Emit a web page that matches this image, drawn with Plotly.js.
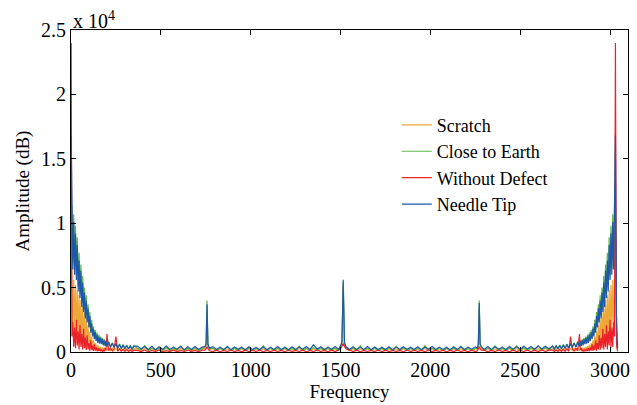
<!DOCTYPE html>
<html>
<head>
<meta charset="utf-8">
<script src="https://cdn.plot.ly/plotly-3.0.1.min.js"></script>
<style>html,body{margin:0;padding:0;background:#fff;}#chart{width:637px;height:405px;}</style>
</head>
<body>
<div id="chart"></div>
<script>
// Frequency bins: low edge, middle band, high edge
var freqLow = [1,5,10,15,20,25,30,35,40,45,50,55,60,65,70,75,80,85,90,95,100,105,110,115,120,125,130,135,140,145,150,155,160,165,170,175,180,185,190,195,200,210,220,230,240,250,260,270,280,290,300,310,320,330,340,350];
var freqMid = [370,390,410,430,450,470,490,510,530,550,570,590,610,630,650,670,690,710,730,
  745,752,757,762,770,
  790,810,830,850,870,890,910,930,950,970,990,1010,1030,1050,1070,1090,1110,1130,1150,1170,1190,1210,1230,1250,1270,1290,1310,1330,1350,1370,1390,1410,1430,1450,1470,1490,
  1500,1508,1515,1522,1530,
  1550,1570,1590,1610,1630,1650,1670,1690,1710,1730,1750,1770,1790,1810,1830,1850,1870,1890,1910,1930,1950,1970,1990,2010,2030,2050,2070,2090,2110,2130,2150,2170,2190,2210,2230,2250,
  2262,2267,2272,2277,2284,
  2300,2320,2340,2360,2380,2400,2420,2440,2460,2480,2500,2520,2540,2560,2580,2600,2620,2640,2660];
var freqHigh = [2680,2690,2700,2710,2720,2730,2740,2750,2760,2770,2780,2790,2800,2810,2820,2830,2835,2840,2845,2850,2855,2860,2865,2870,2875,2880,2885,2890,2895,2900,2905,2910,2915,2920,2925,2930,2935,2940,2945,2950,2955,2960,2965,2970,2975,2980,2985,2990,2995,3000,3005,3010,3015,3020,3025,3030,3036,3042];

// Scratch
var scratchLow = [9000,6000,1500,5600,1800,5200,1400,4800,1200,4400,1000,4000,900,3600,800,3100,600,2600,500,2100,400,1600,300,1200,250,900,200,700,180,550,150,450,140,400,130,360,120,330,110,310,100,300,120,290,110,280,100,270,110,260,100,260,90,250,100,250];
var scratchMid = [260,110,280,100,250,120,260,90,270,110,240,100,260,120,250,90,260,110,250,
  300,450,3300,450,200,
  250,100,260,110,240,90,270,110,250,100,260,120,240,100,250,110,270,90,250,110,260,100,240,120,270,100,250,110,260,90,250,110,240,100,260,110,
  320,550,5000,550,300,
  110,260,100,250,120,240,100,270,110,250,90,260,110,240,100,250,120,260,90,250,110,270,100,240,110,260,100,250,120,240,90,260,110,250,100,260,
  200,450,3300,450,300,
  110,250,100,260,120,240,110,270,100,250,120,260,110,280,100,260,120,270,110];
var scratchHigh = [250,100,250,90,260,100,260,110,270,100,280,110,290,120,300,100,310,110,330,120,360,130,400,140,450,150,550,180,700,200,900,250,1200,300,1600,400,2100,500,2600,600,3100,800,3600,900,4000,1000,4400,1200,4800,1400,5200,1800,5600,1500,6000,9000,800,100];

// Close to Earth
var earthLow = [11400,11300,6900,10700,6500,9800,6000,8900,5100,7700,4600,6800,3800,5900,3400,5000,2800,4400,2500,3700,2100,3100,1700,2500,1300,2000,1100,1700,900,1500,760,1350,700,1200,650,1100,560,1000,520,900,470,820,400,730,360,680,320,620,300,580,280,540,260,500,250,480];
var earthMid = [300,150,480,130,320,160,300,140,350,120,310,150,470,130,300,160,320,140,300,
  350,650,4000,650,250,
  300,140,320,130,460,150,300,120,330,140,310,160,300,130,480,150,320,140,300,130,310,150,320,130,460,140,300,150,340,130,310,120,320,150,300,140,
  400,700,5400,700,350,
  140,310,150,470,130,300,160,320,140,300,120,330,150,460,130,310,150,300,140,320,130,480,150,300,140,310,160,300,130,320,150,460,140,300,150,320,
  250,650,4000,650,350,
  140,320,150,470,130,300,160,320,140,480,130,330,160,310,150,470,170,330,180];
var earthHigh = [480,250,500,260,540,280,580,300,620,320,680,360,730,400,820,470,900,520,1000,560,1100,650,1200,700,1350,760,1500,900,1700,1100,2000,1300,2500,1700,3100,2100,3700,2500,4400,2800,5000,3400,5900,3800,6800,4600,7700,5100,8900,6000,9800,6500,10700,6900,11300,11400,1200,200];

// Without Defect
var cleanLow = [24000,1200,2300,400,1900,300,2500,500,1600,200,2100,400,1400,200,1800,300,1100,150,1300,200,700,100,900,150,500,80,600,100,350,60,300,80,250,50,200,60,150,50,300,150,1400,100,300,80,250,1200,60,250,50,200,40,180,40,160,30,150];
var cleanMid = [120,30,150,20,130,40,160,20,110,30,140,20,120,40,150,30,130,20,140,
  150,250,400,250,100,
  30,140,20,130,40,150,30,120,20,140,30,130,40,150,20,120,30,140,40,130,20,150,30,120,40,140,20,130,30,150,40,120,20,140,30,160,
  250,450,650,450,250,
  150,30,140,20,130,40,120,30,150,20,140,30,130,40,120,20,150,30,140,40,130,20,150,30,120,40,140,20,130,30,150,40,120,20,140,30,
  100,250,400,250,150,
  140,20,130,30,150,40,120,20,140,30,130,40,150,20,140,30,160,40,150];
var cleanHigh = [150,30,160,40,180,40,200,50,250,60,1200,250,80,300,100,1400,150,300,50,150,60,200,50,250,80,300,60,350,100,600,80,500,150,900,100,700,200,1300,150,1100,300,1800,200,1400,400,2100,200,1600,500,2500,300,1900,400,2300,1200,24000,600,50];

// Needle Tip
var needleLow = [16800,10900,6400,10100,6000,9200,5600,8300,4700,7100,4200,6300,3500,5400,3100,4600,2600,4000,2300,3400,1900,2800,1500,2200,1200,1800,1000,1550,850,1350,700,1200,650,1100,600,1000,520,900,480,820,430,760,380,680,340,640,300,590,280,550,260,500,240,470,230,450];
var needleMid = [460,230,420,200,440,180,400,220,460,190,380,210,420,180,400,200,430,190,380,
  420,600,3700,600,300,
  420,190,380,200,410,180,390,210,370,180,400,190,360,200,390,170,380,200,420,190,370,180,400,200,380,210,430,200,560,220,400,190,380,210,420,200,
  450,750,5600,750,420,
  200,410,190,380,200,420,180,390,200,370,190,400,180,380,200,410,190,370,200,400,180,390,210,420,190,380,200,370,180,400,190,410,200,380,220,400,
  300,600,3800,600,420,
  200,420,190,400,210,380,200,430,220,400,210,440,230,420,220,460,240,450,260];
var needleHigh = [450,230,470,240,500,260,550,280,590,300,640,340,680,380,760,430,820,480,900,520,1000,600,1100,650,1200,700,1350,850,1550,1000,1800,1200,2200,1500,2800,1900,3400,2300,4000,2600,4600,3100,5400,3500,6300,4200,7100,4700,8300,5600,9200,6000,10100,6400,10900,16800,2800,300];

var seriesNames = ['Scratch','Close to Earth','Without Defect','Needle Tip'];
var seriesColors = ['#EDA83A','#5DB946','#EC2229','#1F58A6'];
var yTickVals = [0,5000,10000,15000,20000,25000];
var yTickText = ['0','0.5','1','1.5','2','2.5'];
var xTickVals = [0,500,1000,1500,2000,2500,3000];

var freq = freqLow.concat(freqMid, freqHigh);
var seriesData = [
  scratchLow.concat(scratchMid, scratchHigh),
  earthLow.concat(earthMid, earthHigh),
  cleanLow.concat(cleanMid, cleanHigh),
  needleLow.concat(needleMid, needleHigh)
];

var FONT = 'Liberation Serif, Times New Roman, serif';
var traces = seriesData.map(function(vals, i){
  return {x: freq, y: vals, type: 'scatter', mode: 'lines', name: seriesNames[i],
          line: {color: seriesColors[i], width: 1.2}};
});

var axisCommon = {showline: true, linecolor: '#000', linewidth: 1, mirror: 'ticks',
  ticks: 'inside', ticklen: 5, tickcolor: '#000', showgrid: false, zeroline: false,
  tickfont: {family: FONT, size: 20, color: '#000'}};

var layout = {
  width: 637, height: 405,
  margin: {l: 71, r: 9, t: 30, b: 53},
  paper_bgcolor: '#fff', plot_bgcolor: '#fff',
  showlegend: true,
  legend: {x: 0.585, y: 0.762, xanchor: 'left', yanchor: 'top', bgcolor: 'rgba(0,0,0,0)',
           borderwidth: 0, font: {family: FONT, size: 18, color: '#000'}, tracegroupgap: 0},
  xaxis: Object.assign({}, axisCommon, {range: [0, 3100], tickvals: xTickVals,
    title: {text: 'Frequency', font: {family: FONT, size: 19, color: '#000'}, standoff: 3}}),
  yaxis: Object.assign({}, axisCommon, {range: [0, 25000], tickvals: yTickVals, ticktext: yTickText,
    title: {text: 'Amplitude (dB)', font: {family: FONT, size: 19, color: '#000'}, standoff: 6}}),
  annotations: [{xref: 'paper', yref: 'paper', x: 0, y: 1, xanchor: 'left', yanchor: 'bottom',
    text: 'x 10<sup>4</sup>', showarrow: false, font: {family: FONT, size: 20, color: '#000'}, yshift: -4}]
};

Plotly.newPlot('chart', traces, layout, {displayModeBar: false, staticPlot: true});
</script>
</body>
</html>
